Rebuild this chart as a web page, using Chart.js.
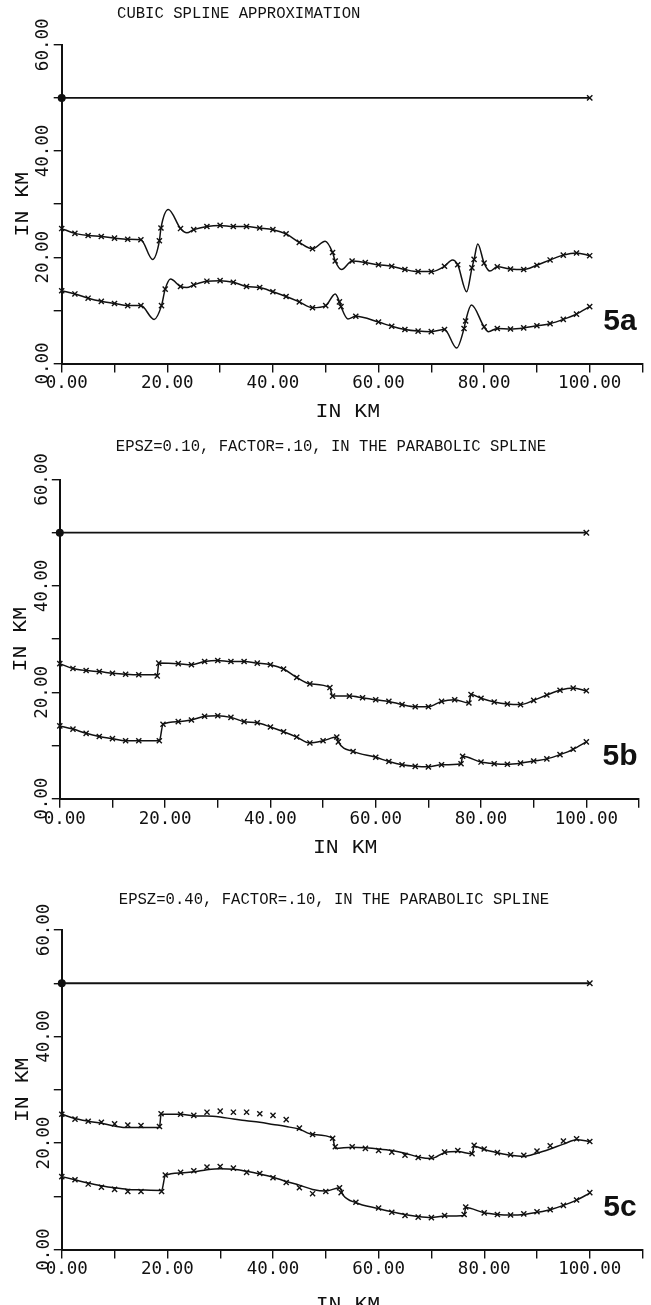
<!DOCTYPE html>
<html>
<head>
<meta charset="utf-8">
<script src="https://cdn.jsdelivr.net/npm/chart.js@4.4.1/dist/chart.umd.min.js"></script>
<style>
  html, body { margin: 0; padding: 0; background: #fff; }
  #sheet { position: relative; width: 651px; height: 1305px; overflow: hidden; background: #fff; }
  #sheet canvas { position: absolute; left: 0; }
</style>
</head>
<body>
<div id="sheet">
  <canvas id="fig5a" width="651" height="435" style="top:0px"></canvas>
  <canvas id="fig5b" width="651" height="435" style="top:435px"></canvas>
  <canvas id="fig5c" width="651" height="435" style="top:870px"></canvas>
</div>
<script>
// ---- measured interfaces (km along profile -> depth in km) ----
const topLineX  = [0, 100];
const topLineKm = [50, 50];

const upperX  = [0, 2.5, 5, 7.5, 10, 12.5, 15, 18.5, 18.8, 22.5, 25, 27.5, 30, 32.5, 35, 37.5, 40, 42.5, 45, 47.5,
                 51.3, 51.8, 55, 57.5, 60, 62.5, 65, 67.5, 70, 72.5, 75, 77.7, 78.1, 80, 82.5, 85, 87.5, 90, 92.5, 95, 97.5, 100];
const upperKm = [25.4, 24.5, 24.1, 23.9, 23.6, 23.4, 23.3, 23.1, 25.5, 25.4, 25.2, 25.8, 26.0, 25.8, 25.8, 25.5, 25.2, 24.4, 22.8, 21.6,
                 20.9, 19.3, 19.3, 19.0, 18.6, 18.3, 17.7, 17.3, 17.3, 18.3, 18.6, 18.0, 19.6, 18.9, 18.2, 17.8, 17.7, 18.5, 19.5, 20.4, 20.8, 20.3];

const lowerX  = [0, 2.5, 5, 7.5, 10, 12.5, 15, 18.9, 19.6, 22.5, 25, 27.5, 30, 32.5, 35, 37.5, 40, 42.5, 45, 47.5,
                 50, 52.6, 52.9, 55.7, 60, 62.5, 65, 67.5, 70, 72.5, 76.2, 76.5, 80, 82.5, 85, 87.5, 90, 92.5, 95, 97.5, 100];
const lowerKm = [13.7, 13.1, 12.3, 11.7, 11.3, 10.9, 10.9, 10.9, 14.0, 14.5, 14.8, 15.5, 15.6, 15.3, 14.5, 14.3, 13.5, 12.6, 11.6, 10.5,
                 10.9, 11.6, 10.7, 8.9, 7.8, 7.0, 6.4, 6.1, 6.0, 6.4, 6.6, 8.0, 6.9, 6.6, 6.5, 6.7, 7.1, 7.5, 8.3, 9.3, 10.7];

// ---- 5a: cubic spline curves ----
const fitAUpperX  = [0, 2.5, 5, 7.5, 10, 12.5, 15, 17.2, 18.5, 18.8, 20.2, 22.5, 23.7, 25, 27.5, 30, 32.5, 35, 37.5, 40, 42.5, 45, 47.5,
                     49.9, 51.3, 51.8, 53.0, 55, 57.5, 60, 62.5, 65, 67.5, 70, 72.5, 74.0, 75, 76.7, 77.7, 78.1, 78.8, 80, 81.1,
                     82.5, 85, 87.5, 90, 92.5, 95, 97.5, 100];
const fitAUpperKm = [25.4, 24.5, 24.1, 23.9, 23.6, 23.4, 23.3, 19.6, 23.1, 25.5, 29.0, 25.4, 24.6, 25.2, 25.8, 26.0, 25.8, 25.8, 25.5, 25.2, 24.4, 22.8, 21.6,
                     23.0, 20.9, 19.3, 17.7, 19.3, 19.0, 18.6, 18.3, 17.7, 17.3, 17.3, 18.3, 19.5, 18.6, 13.5, 18.0, 19.6, 22.5, 18.9, 17.4,
                     18.2, 17.8, 17.7, 18.5, 19.5, 20.4, 20.8, 20.3];
const fitALowerX  = [0, 2.5, 5, 7.5, 10, 12.5, 15, 17.5, 18.9, 19.6, 20.6, 22.5, 23.7, 25, 27.5, 30, 32.5, 35, 37.5, 40, 42.5, 45, 47.5,
                     50, 51.8, 52.6, 52.9, 54.2, 55.7, 60, 62.5, 65, 67.5, 70, 72.5, 74.8, 76.2, 76.5, 77.6, 80, 80.8,
                     82.5, 85, 87.5, 90, 92.5, 95, 97.5, 100];
const fitALowerKm = [13.7, 13.1, 12.3, 11.7, 11.3, 10.9, 10.9, 8.3, 10.9, 14.0, 15.9, 14.5, 14.3, 14.8, 15.5, 15.6, 15.3, 14.5, 14.3, 13.5, 12.6, 11.6, 10.5,
                     10.9, 13.1, 11.6, 10.7, 8.4, 8.9, 7.8, 7.0, 6.4, 6.1, 6.0, 6.4, 2.9, 6.6, 8.0, 11.0, 6.9, 6.0,
                     6.6, 6.5, 6.7, 7.1, 7.5, 8.3, 9.3, 10.7];

// ---- 5b: parabolic spline, EPSZ=0.10 ----
const fitBUpperX  = [0, 2.5, 5, 7.5, 10, 12.5, 15, 18.5, 18.8, 22.5, 25, 27.5, 30, 32.5, 35, 37.5, 40, 42.5, 45, 47.5,
                     51.3, 51.8, 55, 57.5, 60, 62.5, 65, 67.5, 70, 72.5, 75, 77.7, 78.1, 80, 82.5, 85, 87.5, 90, 92.5, 95, 97.5, 100];
const fitBUpperKm = [25.4, 24.5, 24.1, 23.9, 23.6, 23.4, 23.3, 23.3, 25.5, 25.4, 25.2, 25.8, 26.0, 25.8, 25.8, 25.5, 25.2, 24.4, 22.8, 21.6,
                     20.9, 19.3, 19.3, 19.0, 18.6, 18.3, 17.7, 17.3, 17.3, 18.3, 18.6, 18.0, 19.6, 18.9, 18.2, 17.8, 17.7, 18.5, 19.5, 20.4, 20.8, 20.3];
const fitBLowerX  = [0, 2.5, 5, 7.5, 10, 12.5, 15, 18.9, 19.6, 22.5, 25, 27.5, 30, 32.5, 35, 37.5, 40, 42.5, 45, 47.5,
                     50, 52.6, 52.9, 55.7, 60, 62.5, 65, 67.5, 70, 72.5, 76.2, 76.5, 80, 82.5, 85, 87.5, 90, 92.5, 95, 97.5, 100];
const fitBLowerKm = [13.7, 13.1, 12.3, 11.7, 11.3, 10.9, 10.9, 10.9, 14.0, 14.5, 14.8, 15.5, 15.6, 15.3, 14.5, 14.3, 13.5, 12.6, 11.6, 10.5,
                     10.9, 11.6, 10.7, 8.9, 7.8, 7.0, 6.4, 6.1, 6.0, 6.4, 6.6, 8.0, 6.9, 6.6, 6.5, 6.7, 7.1, 7.5, 8.3, 9.3, 10.7];

// ---- 5c: parabolic spline, EPSZ=0.40 ----
const fitCUpperX  = [0, 2.5, 5, 7.5, 10, 12.5, 15, 18.5, 18.8, 22.5, 25, 27.5, 30, 32.5, 35, 37.5, 40, 42.5, 45, 47.5,
                     51.3, 51.8, 55, 57.5, 60, 62.5, 65, 67.5, 70, 72.5, 75, 77.7, 78.1, 80, 82.5, 85, 87.5, 90, 92.5, 95, 97.5, 100];
const fitCUpperKm = [25.4, 24.6, 24.1, 23.7, 23.2, 22.9, 22.9, 22.9, 25.4, 25.4, 25.1, 25.1, 24.9, 24.5, 24.2, 23.9, 23.5, 23.1, 22.6, 21.6,
                     20.9, 19.0, 19.2, 19.1, 18.9, 18.6, 18.1, 17.4, 17.1, 18.2, 18.4, 18.0, 19.4, 18.8, 18.2, 17.7, 17.5, 18.1, 18.9, 19.8, 20.6, 20.3];
const fitCLowerX  = [0, 2.5, 5, 7.5, 10, 12.5, 15, 18.9, 19.6, 22.5, 25, 27.5, 30, 32.5, 35, 37.5, 40, 42.5, 45, 47.5,
                     50, 52.6, 53.3, 55.7, 60, 62.5, 65, 67.5, 70, 72.5, 76.2, 76.5, 80, 82.5, 85, 87.5, 90, 92.5, 95, 97.5, 100];
const fitCLowerKm = [13.7, 13.1, 12.5, 12.0, 11.6, 11.3, 11.2, 11.1, 13.9, 14.4, 14.6, 15.0, 15.2, 15.1, 14.7, 14.2, 13.6, 12.8, 12.1, 11.3,
                     11.0, 11.6, 10.2, 8.8, 7.7, 7.1, 6.6, 6.2, 6.0, 6.3, 6.4, 7.9, 6.9, 6.6, 6.5, 6.6, 7.0, 7.5, 8.3, 9.3, 10.6];

// ---- axis labelling ----
const xTickValues = [0, 20, 40, 60, 80, 100];
const xTickLabels = ['0.00', '20.00', '40.00', '60.00', '80.00', '100.00'];
const yTickValues = [0, 20, 40, 60];
const yTickLabels = ['0.00', '20.00', '40.00', '60.00'];
const axisTitle = 'IN KM';

// ---- drawing ----
const INK = '#111';
const TICK_FONT  = '17.5px "DejaVu Sans Mono", monospace';
const TITLE_FONT = '15.6px "Liberation Mono", monospace';
const AXIS_FONT  = '21.5px "Liberation Mono", monospace';
const TAG_FONT   = 'bold 30px "Liberation Sans", Arial, sans-serif';

const pts = (xs, ys) => xs.map((x, i) => ({ x: x, y: ys[i] }));

function put(ctx, text, x, y, font, rot, sx, sy) {
  ctx.save();
  ctx.translate(x, y);
  ctx.rotate(rot);
  ctx.scale(sx, sy);
  ctx.font = font;
  ctx.textAlign = 'center';
  ctx.textBaseline = 'middle';
  ctx.fillText(text, 0, 0);
  ctx.restore();
}

// plotter-style annotations: tick labels, axis titles, heading, panel tag
const panelText = {
  id: 'panelText',
  afterDraw(chart, _args, o) {
    const ctx = chart.ctx;
    const xs = chart.scales.x, ys = chart.scales.y;
    const axisY = ys.getPixelForValue(0);
    const axisX = xs.getPixelForValue(0);
    ctx.save();
    ctx.fillStyle = INK;
    xTickValues.forEach((v, i) => {
      const px = xs.getPixelForValue(v) + (v === 0 ? 5 : 0);
      put(ctx, xTickLabels[i], px, axisY + 20, TICK_FONT, 0, 1, 1.05);
    });
    yTickValues.forEach((v, i) => {
      put(ctx, yTickLabels[i], axisX - 18, ys.getPixelForValue(v), TICK_FONT, -Math.PI / 2, 1, 1.05);
    });
    put(ctx, axisTitle, xs.getPixelForValue(54.2), axisY + o.xTitleDy, AXIS_FONT, 0, 1, 0.9);
    put(ctx, axisTitle, axisX - 39, ys.getPixelForValue(30), AXIS_FONT, -Math.PI / 2, 1, 0.9);
    put(ctx, o.heading, o.headingX, o.headingY, TITLE_FONT, 0, 1, 1);
    put(ctx, o.tag, 620, axisY - 42, TAG_FONT, 0, 1, 1);
    ctx.restore();
  }
};

function curve(data, width) {
  return {
    data: data, showLine: true, borderColor: INK, borderWidth: width,
    pointRadius: 0, cubicInterpolationMode: 'monotone', fill: false, clip: false
  };
}

function marks(data, style, radius) {
  return {
    data: data, showLine: false, clip: false,
    pointStyle: style || 'crossRot', pointRadius: radius || 3.6,
    pointBorderColor: INK, pointBackgroundColor: INK, pointBorderWidth: 1.4
  };
}

function axis(min, max, tickLength, size, horizontal) {
  return {
    type: 'linear', min: min, max: max,
    position: horizontal ? 'bottom' : 'left',
    ticks: { display: false, stepSize: 10 },
    grid: { drawOnChartArea: false, drawTicks: true, tickLength: tickLength, color: INK, lineWidth: 1.4 },
    border: { display: true, color: INK, width: 2 },
    afterFit: s => { if (horizontal) { s.height = size; } else { s.width = size; } }
  };
}

function panel(id, fits, padding, heading, headingX, headingY, tag, xTitleDy) {
  new Chart(document.getElementById(id), {
    type: 'scatter',
    data: {
      datasets: [
        curve(pts(topLineX, topLineKm), 1.8),
        curve(pts(fits[0], fits[1]), 1.5),
        curve(pts(fits[2], fits[3]), 1.5),
        marks(pts(topLineX, topLineKm), ['circle', 'crossRot'], [3.3, 3.8]),
        marks(pts(upperX, upperKm)),
        marks(pts(lowerX, lowerKm))
      ]
    },
    options: {
      responsive: false,
      animation: false,
      events: [],
      layout: { padding: padding },
      plugins: {
        legend: { display: false },
        tooltip: { enabled: false },
        panelText: { heading: heading, headingX: headingX, headingY: headingY, tag: tag, xTitleDy: xTitleDy }
      },
      scales: {
        x: axis(0, 110, 9, 10, true),
        y: axis(0, 60, 8, 8, false)
      }
    },
    plugins: [panelText]
  });
}

panel('fig5a', [fitAUpperX, fitAUpperKm, fitALowerX, fitALowerKm],
      { left: 53.7, right: 8.5, top: 44.8, bottom: 61.5 },
      'CUBIC SPLINE APPROXIMATION', 238.7, 14, '5a', 48);
panel('fig5b', [fitBUpperX, fitBUpperKm, fitBLowerX, fitBLowerKm],
      { left: 51.8, right: 12, top: 44.5, bottom: 61.2 },
      'EPSZ=0.10, FACTOR=.10, IN THE PARABOLIC SPLINE', 331, 11.7, '5b', 49);
panel('fig5c', [fitCUpperX, fitCUpperKm, fitCLowerX, fitCLowerKm],
      { left: 53.8, right: 8.4, top: 60, bottom: 45.4 },
      'EPSZ=0.40, FACTOR=.10, IN THE PARABOLIC SPLINE', 334, 30, '5c', 55);
</script>
</body>
</html>
